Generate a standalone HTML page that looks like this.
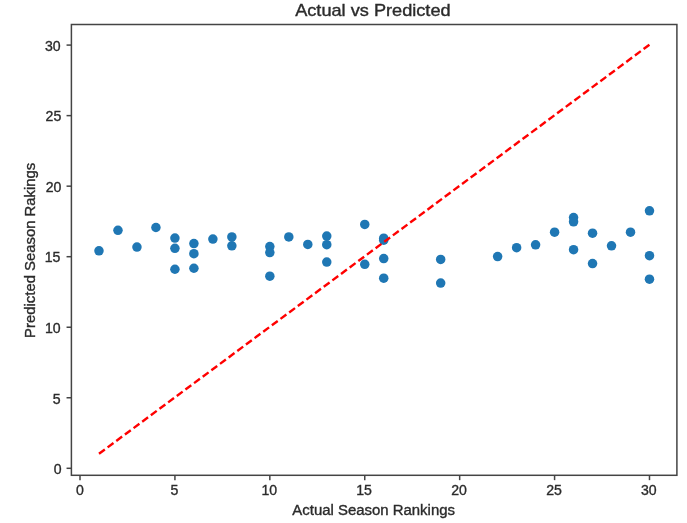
<!DOCTYPE html>
<html><head><meta charset="utf-8"><style>
html,body{margin:0;padding:0;background:#fff;width:687px;height:523px;overflow:hidden}
svg{display:block;will-change:transform}
text{font-family:"Liberation Sans",sans-serif;fill:#2b2b2b;stroke:#2b2b2b;stroke-width:0.35px}
</style></head><body>
<svg width="687" height="523" viewBox="0 0 687 523">
<rect x="0" y="0" width="687" height="523" fill="#fff"/>
<g fill="#1f77b4">
<circle cx="98.98" cy="250.77" r="4.75"/>
<circle cx="117.97" cy="230.31" r="4.75"/>
<circle cx="136.95" cy="247.10" r="4.75"/>
<circle cx="155.93" cy="227.49" r="4.75"/>
<circle cx="174.92" cy="238.07" r="4.75"/>
<circle cx="174.92" cy="248.37" r="4.75"/>
<circle cx="174.92" cy="269.25" r="4.75"/>
<circle cx="193.90" cy="243.58" r="4.75"/>
<circle cx="193.90" cy="253.73" r="4.75"/>
<circle cx="193.90" cy="268.26" r="4.75"/>
<circle cx="212.88" cy="239.06" r="4.75"/>
<circle cx="231.86" cy="236.95" r="4.75"/>
<circle cx="231.86" cy="245.83" r="4.75"/>
<circle cx="269.83" cy="246.54" r="4.75"/>
<circle cx="269.83" cy="252.60" r="4.75"/>
<circle cx="269.83" cy="276.16" r="4.75"/>
<circle cx="288.81" cy="236.95" r="4.75"/>
<circle cx="307.80" cy="244.42" r="4.75"/>
<circle cx="326.78" cy="236.10" r="4.75"/>
<circle cx="326.78" cy="244.70" r="4.75"/>
<circle cx="326.78" cy="262.06" r="4.75"/>
<circle cx="364.75" cy="224.39" r="4.75"/>
<circle cx="364.75" cy="264.31" r="4.75"/>
<circle cx="383.73" cy="238.21" r="4.75"/>
<circle cx="383.73" cy="240.19" r="4.75"/>
<circle cx="383.73" cy="258.53" r="4.75"/>
<circle cx="383.73" cy="278.14" r="4.75"/>
<circle cx="440.68" cy="259.38" r="4.75"/>
<circle cx="440.68" cy="283.08" r="4.75"/>
<circle cx="497.63" cy="256.55" r="4.75"/>
<circle cx="516.61" cy="247.67" r="4.75"/>
<circle cx="535.59" cy="244.85" r="4.75"/>
<circle cx="554.58" cy="232.15" r="4.75"/>
<circle cx="573.56" cy="217.62" r="4.75"/>
<circle cx="573.56" cy="221.85" r="4.75"/>
<circle cx="573.56" cy="249.64" r="4.75"/>
<circle cx="592.54" cy="233.14" r="4.75"/>
<circle cx="592.54" cy="263.61" r="4.75"/>
<circle cx="611.52" cy="245.83" r="4.75"/>
<circle cx="630.51" cy="232.15" r="4.75"/>
<circle cx="649.49" cy="210.85" r="4.75"/>
<circle cx="649.49" cy="255.71" r="4.75"/>
<circle cx="649.49" cy="279.13" r="4.75"/>
</g>
<line x1="98.98" y1="453.79" x2="649.49" y2="44.69" stroke="#ff0000" stroke-width="2.4" stroke-dasharray="7.3 3.47"/>
<rect x="71.40" y="24.50" width="605.50" height="450.80" fill="none" stroke="#444" stroke-width="1.5"/>
<g stroke="#444" stroke-width="1.5">
<line x1="80.00" y1="475.30" x2="80.00" y2="480.16"/>
<line x1="66.54" y1="468.30" x2="71.40" y2="468.30"/>
<line x1="174.92" y1="475.30" x2="174.92" y2="480.16"/>
<line x1="66.54" y1="397.76" x2="71.40" y2="397.76"/>
<line x1="269.83" y1="475.30" x2="269.83" y2="480.16"/>
<line x1="66.54" y1="327.23" x2="71.40" y2="327.23"/>
<line x1="364.75" y1="475.30" x2="364.75" y2="480.16"/>
<line x1="66.54" y1="256.70" x2="71.40" y2="256.70"/>
<line x1="459.66" y1="475.30" x2="459.66" y2="480.16"/>
<line x1="66.54" y1="186.16" x2="71.40" y2="186.16"/>
<line x1="554.58" y1="475.30" x2="554.58" y2="480.16"/>
<line x1="66.54" y1="115.63" x2="71.40" y2="115.63"/>
<line x1="649.49" y1="475.30" x2="649.49" y2="480.16"/>
<line x1="66.54" y1="45.09" x2="71.40" y2="45.09"/>
</g>
<g font-size="14.1">
<text x="80.00" y="495.40" text-anchor="middle">0</text>
<text x="61.60" y="474.20" text-anchor="end">0</text>
<text x="174.32" y="495.40" text-anchor="middle">5</text>
<text x="60.60" y="404.20" text-anchor="end">5</text>
<text x="269.23" y="495.40" text-anchor="middle">10</text>
<text x="60.60" y="333.20" text-anchor="end">10</text>
<text x="364.14" y="495.40" text-anchor="middle">15</text>
<text x="60.40" y="262.20" text-anchor="end">15</text>
<text x="459.06" y="495.40" text-anchor="middle">20</text>
<text x="61.40" y="192.20" text-anchor="end">20</text>
<text x="553.98" y="495.40" text-anchor="middle">25</text>
<text x="61.30" y="121.20" text-anchor="end">25</text>
<text x="648.89" y="495.40" text-anchor="middle">30</text>
<text x="60.60" y="51.20" text-anchor="end">30</text>
</g>
<text x="372.9" y="15.8" text-anchor="middle" font-size="15.7" textLength="155.4" lengthAdjust="spacingAndGlyphs">Actual vs Predicted</text>
<text x="373.65" y="514.65" text-anchor="middle" font-size="13.8" textLength="162.6" lengthAdjust="spacingAndGlyphs">Actual Season Rankings</text>
<text transform="translate(34.9,250.3) rotate(-90)" x="0" y="0" text-anchor="middle" font-size="13.8" textLength="175.2" lengthAdjust="spacingAndGlyphs">Predicted Season Rakings</text>
</svg>
</body></html>
